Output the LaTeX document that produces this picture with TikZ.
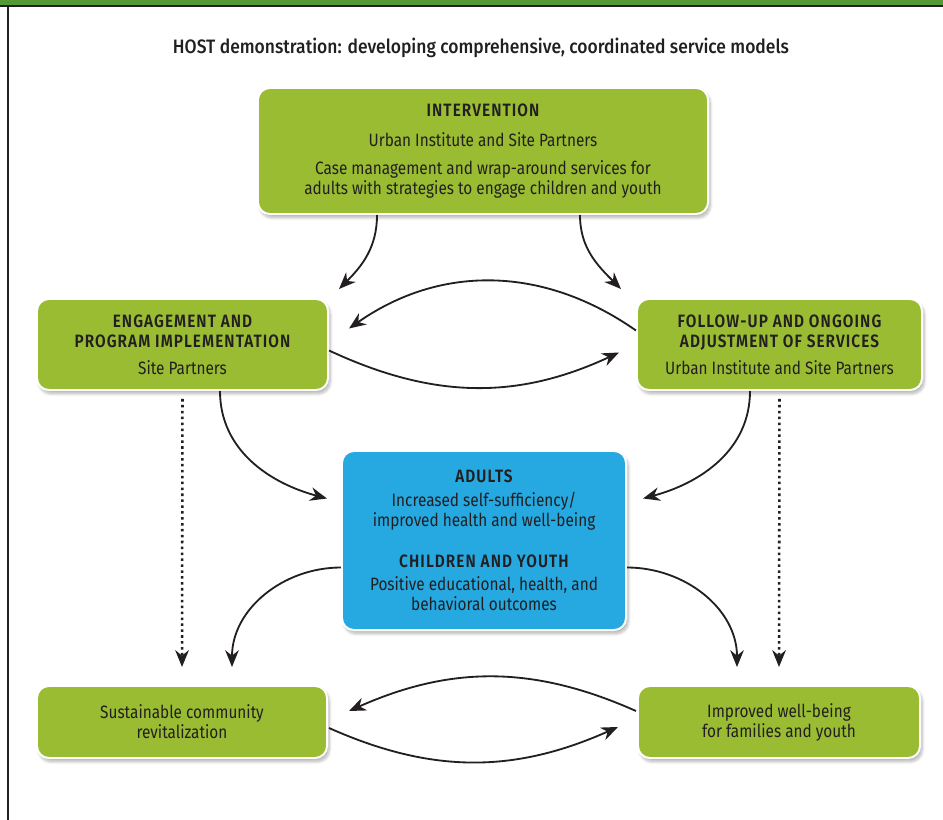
\documentclass[tikz,border=0pt]{standalone}
\usepackage{fontspec}
\usepackage{tikz}
\usetikzlibrary{arrows.meta,shadows.blur}
\setmainfont{Fira Sans}[FakeStretch=0.86]
\IfFontExistsTF{Fira Sans SemiBold}
  {\newfontfamily\headfont{Fira Sans SemiBold}[FakeStretch=0.86,LetterSpace=6]}
  {\newfontfamily\headfont{Fira Sans}[FakeStretch=0.86,LetterSpace=6,FakeBold=1.5]}
\IfFontExistsTF{Fira Sans Medium}
  {\newfontfamily\titlefont{Fira Sans Medium}[FakeStretch=0.9]}
  {\newfontfamily\titlefont{Fira Sans}[FakeStretch=0.9,FakeBold=0.8]}
\newcommand{\hd}[1]{{\headfont #1}}
\definecolor{leafgreen}{RGB}{153,188,51}
\definecolor{skyblue}{RGB}{38,168,224}
\definecolor{bargreen}{RGB}{85,153,52}
\definecolor{inktext}{RGB}{35,31,32}
\tikzset{
  base/.style={font=\fontsize{12.7}{14.2}\selectfont, align=center, text=inktext, inner sep=2pt},
  box/.style={base, rectangle, rounded corners=3mm, draw=white, line width=1.4pt, fill=leafgreen,
    blur shadow={shadow xshift=1.5pt, shadow yshift=-2.5pt, shadow blur steps=8, shadow opacity=30}},
  outbox/.style={box, fill=skyblue},
  arr/.style={-{Stealth[length=4.2mm,width=3.4mm]}, line width=1.3pt, draw=inktext},
  arrd/.style={arr, line width=1.8pt, dash pattern=on 1.8pt off 2.4pt},
}

\begin{document}
\begin{tikzpicture}[x=0.025cm,y=-0.025cm]
  \useasboundingbox (0,0) rectangle (943,820);
  % frame: green bar on top, rule on the left
  \fill[bargreen] (0,0) rectangle (943,5);
  \fill[inktext] (0,5) rectangle (943,7);
  \fill[inktext] (7,5) rectangle (9,820);

  \node[base,font=\fontsize{13.8}{15}\titlefont] (title) at (481,48) {HOST demonstration: developing comprehensive, coordinated service models};

  \node[box,minimum width=11.25cm,minimum height=3.15cm] (int) at (483,151)
    {\hd{INTERVENTION}\\[7pt] Urban Institute and Site Partners\\[5.5pt] Case management and wrap-around services for\\ adults with strategies to engage children and youth};
  \node[box,minimum width=7.275cm,minimum height=2.275cm] (eng) at (182.5,344.5)
    {\hd{ENGAGEMENT AND}\\ \hd{PROGRAM IMPLEMENTATION}\\[5pt] Site Partners};
  \node[box,minimum width=7.125cm,minimum height=2.275cm] (fol) at (779.5,344.5)
    {\hd{FOLLOW-UP AND ONGOING}\\ \hd{ADJUSTMENT OF SERVICES}\\[5pt] Urban Institute and Site Partners};
  \node[outbox,minimum width=7.1cm,minimum height=4.475cm] (adu) at (484,540.5)
    {\hd{ADULTS}\\[3pt] Increased self-sufficiency/\\ improved health and well-being\\[15pt] \hd{CHILDREN AND YOUTH}\\[2pt] Positive educational, health, and\\ behavioral outcomes};
  \node[box,minimum width=7.25cm,minimum height=1.8cm] (sus) at (182,722)
    {Sustainable community\\ revitalization};
  \node[box,minimum width=7.05cm,minimum height=1.8cm] (imp) at (779,722)
    {Improved well-being\\ for families and youth};

  % intervention feeds both partner boxes
  \draw[arr] ([shift={(-106,0)}]int.south) to[out=-90,in=45] ([shift={(10,-9)}]eng.north east);
  \draw[arr] ([shift={(97,0)}]int.south) to[out=-90,in=135] ([shift={(-15,-9)}]fol.north west);
  % loop between implementation and follow-up
  \draw[arr] ([shift={(0,-14)}]fol.west) to[out=145,in=35] ([shift={(20,-16)}]eng.east);
  \draw[arr] ([shift={(0,6)}]eng.east) to[out=-25,in=205] ([shift={(-17,8)}]fol.west);
  % into the outcomes box
  \draw[arr] ([shift={(37.5,0)}]eng.south) to[out=-90,in=165] ([shift={(-14,-42)}]adu.west);
  \draw[arr] ([shift={(-29.5,0)}]fol.south) to[out=-90,in=15] ([shift={(16,-42)}]adu.east);
  % out of the outcomes box
  \draw[arr] ([shift={(0,27)}]adu.west) to[out=180,in=90] ([shift={(50,-18)}]sus.north);
  \draw[arr] ([shift={(0,27)}]adu.east) to[out=0,in=90] ([shift={(-42,-18)}]imp.north);
  \foreach \a/\b in {eng/sus,fol/imp}{\draw[arrd] ([shift={(0,8)}]\a.south) -- ([shift={(0,-18)}]\b.north);}
  % loop between the two long-term results
  \draw[arr] ([shift={(-1,-11)}]imp.west) to[out=156,in=24] ([shift={(21,-11)}]sus.east);
  \draw[arr] ([shift={(1,6)}]sus.east) to[out=-24,in=204] ([shift={(-19,5)}]imp.west);
\end{tikzpicture}
\end{document}
